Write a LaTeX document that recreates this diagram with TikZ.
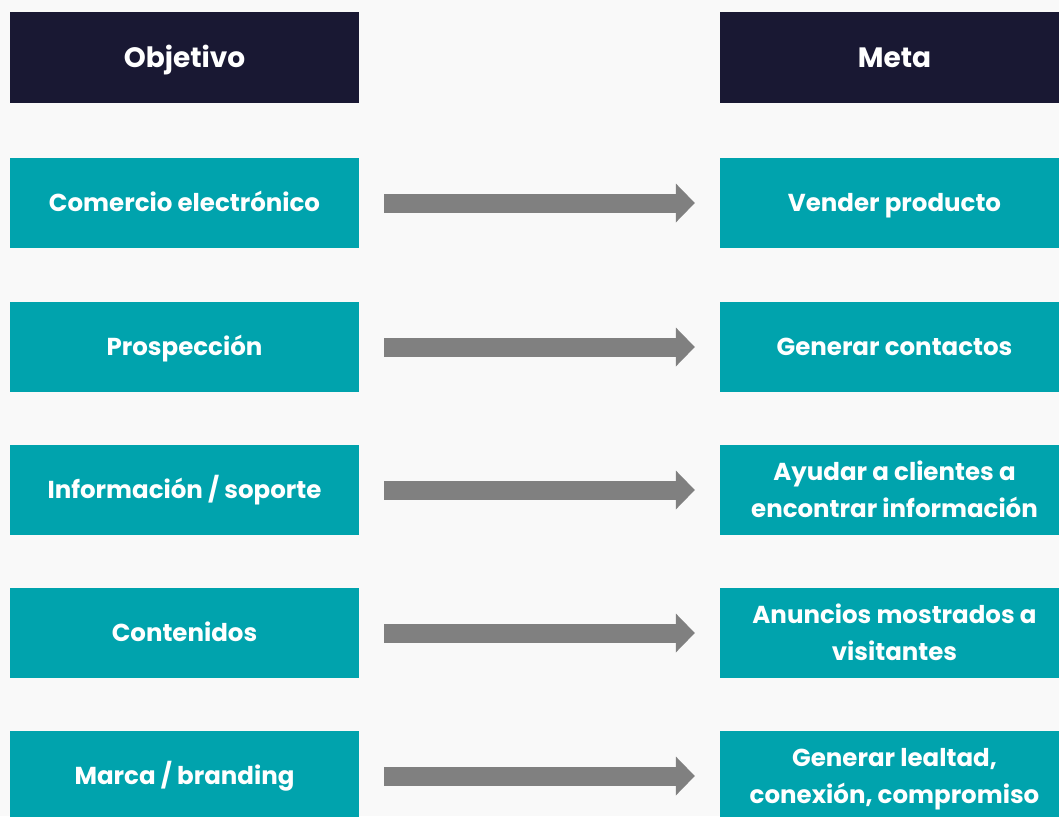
\documentclass[tikz,border=0pt]{standalone}
\usepackage{fontspec}
\setmainfont{Poppins}
\usetikzlibrary{arrows.meta}

\definecolor{navy}{HTML}{191833}
\definecolor{teal}{HTML}{00A3AD}
\definecolor{arrowgray}{HTML}{808080}
\definecolor{paper}{HTML}{F9F9F9}

\tikzset{
  headbox/.style={fill=navy, text=white, minimum width=349pt, minimum height=91pt,
    inner sep=0pt, text height=19.6pt, text depth=0pt,
    font=\fontsize{28}{34}\selectfont\bfseries},
  itembox/.style={fill=teal, text=white, minimum width=349pt, minimum height=90pt,
    inner sep=0pt, align=center, text height=17pt, text depth=0pt,
    font=\fontsize{24.5}{37}\selectfont\bfseries},
  % cap height of the first line plus one baseline skip
  twoline/.style={text height=54pt},
  bigarrow/.style={draw=arrowgray, line width=19pt, shorten <=25pt, shorten >=25pt,
    -{Triangle[width=39pt, length=19pt, line width=0pt]}}
}

\begin{document}
\begin{tikzpicture}[x=1pt, y=-1pt]
\fill[paper] (0,0) rectangle (1059,816);
\useasboundingbox (0,0) rectangle (1059,816);

\node[headbox] (objetivo) at (184.5,57.5) {Objetivo};
\node[headbox] (meta) at (894.5,57.5) {Meta};

\node[itembox] (o1) at (184.5,203) {Comercio electrónico};
\node[itembox] (o2) at (184.5,347) {Prospección};
\node[itembox] (o3) at (184.5,490) {Información / soporte};
\node[itembox] (o4) at (184.5,633) {Contenidos};
\node[itembox] (o5) at (184.5,776) {Marca / branding};

\node[itembox] (m1) at (894.5,203) {Vender producto};
\node[itembox] (m2) at (894.5,347) {Generar contactos};
\node[itembox, twoline] (m3) at (894.5,490) {Ayudar a clientes a\\ encontrar información};
\node[itembox, twoline] (m4) at (894.5,633) {Anuncios mostrados a\\ visitantes};
\node[itembox, twoline] (m5) at (894.5,776) {Generar lealtad,\\ conexión, compromiso};

\foreach \i in {1,...,5}
  \draw[bigarrow] (o\i) -- (m\i);
\end{tikzpicture}
\end{document}
